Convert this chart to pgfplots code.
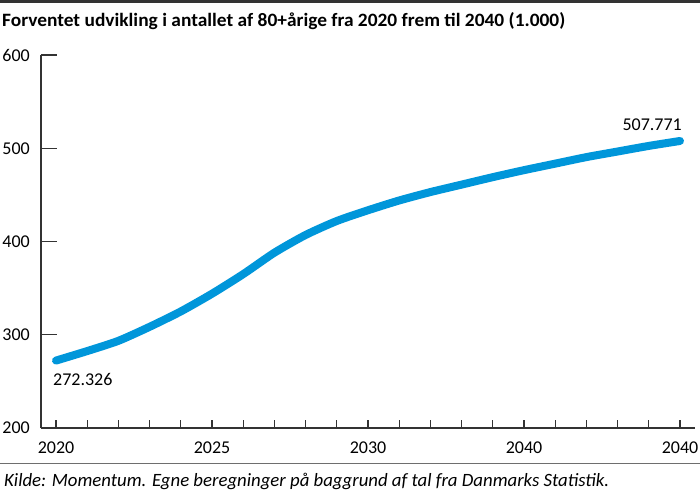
\documentclass[border=0pt]{standalone}
\usepackage{pgfplots}
\pgfplotsset{compat=1.18}
\usepackage{graphicx}
\usepackage{fontspec}
\setmainfont{Carlito}
\definecolor{lineblue}{RGB}{0,150,218}
\definecolor{axisgray}{RGB}{51,51,51}
\definecolor{rulegray}{RGB}{110,110,110}

\pgfplotsset{
  chartbox/.style={
    at={(41pt,64pt)}, anchor=south west,
    width=654pt, height=373pt, scale only axis,
    xmin=2019.519, xmax=2040.481,
    ymin=200, ymax=600,
    axis x line*=bottom, axis y line*=left,
    axis line style={axisgray, line width=1.3pt},
    tick align=inside,
    tick style={axisgray, line width=1.3pt},
    ticklabel style={font=\fontsize{18}{18}\selectfont, inner sep=0pt},
    yticklabel style={xshift=-11pt},
    xticklabel style={yshift=-13.5pt},
    /pgf/number format/assume math mode=true,
    clip=false,
  }
}

\begin{document}
\begin{tikzpicture}[x=1pt,y=1pt]
\useasboundingbox (0,0) rectangle (700,492);
% top rule and title
\fill[axisgray] (0,489.3) rectangle (700,492);
\node[anchor=base west, inner sep=0pt] at (2,465.5)
  {\resizebox{563pt}{14pt}{\bfseries Forventet udvikling i antallet af 80+årige fra 2020 frem til 2040 (1.000)}};

% y ticks (long)
\begin{axis}[chartbox,
    xtick=\empty,
    ytick={200,300,400,500,600},
    major tick length=16pt,
]
\end{axis}

% x ticks (short) and data
\begin{axis}[chartbox,
    xtick={2020,2021,...,2040},
    xticklabels={2020,,,,,2025,,,,,2030,,,,,2040,,,,,2040},
    ytick=\empty,
    major tick length=8pt,
]
\addplot[lineblue, line width=8pt, line cap=round, line join=round, smooth, tension=0.4]
  coordinates {
  (2020,272.3)(2021,282.5)(2022,293.5)(2023,308.5)(2024,325)
  (2025,344)(2026,365)(2027,388)(2028,407)(2029,422)
  (2030,433.5)(2031,444)(2032,453)(2033,461)(2034,469)
  (2035,476.5)(2036,483.5)(2037,490.5)(2038,496.5)(2039,502.5)
  (2040,507.8)
  };
\node[anchor=north west, inner sep=0pt, font=\fontsize{18}{18}\selectfont]
  at (axis cs:2020,272.3) [xshift=-3pt, yshift=-13pt] {272.326};
\node[anchor=base east, inner sep=0pt, font=\fontsize{18}{18}\selectfont]
  at (axis cs:2040,507.8) [xshift=2pt, yshift=10pt] {507.771};
\end{axis}

% bottom rule and source
\draw[rulegray, line width=1.2pt] (0,28.5) -- (700,28.5);
\node[anchor=base west, inner sep=0pt] at (4,5.5)
  {\resizebox{605pt}{!}{\itshape Kilde: Momentum. Egne beregninger på baggrund af tal fra Danmarks Statistik.}};
\end{tikzpicture}
\end{document}
